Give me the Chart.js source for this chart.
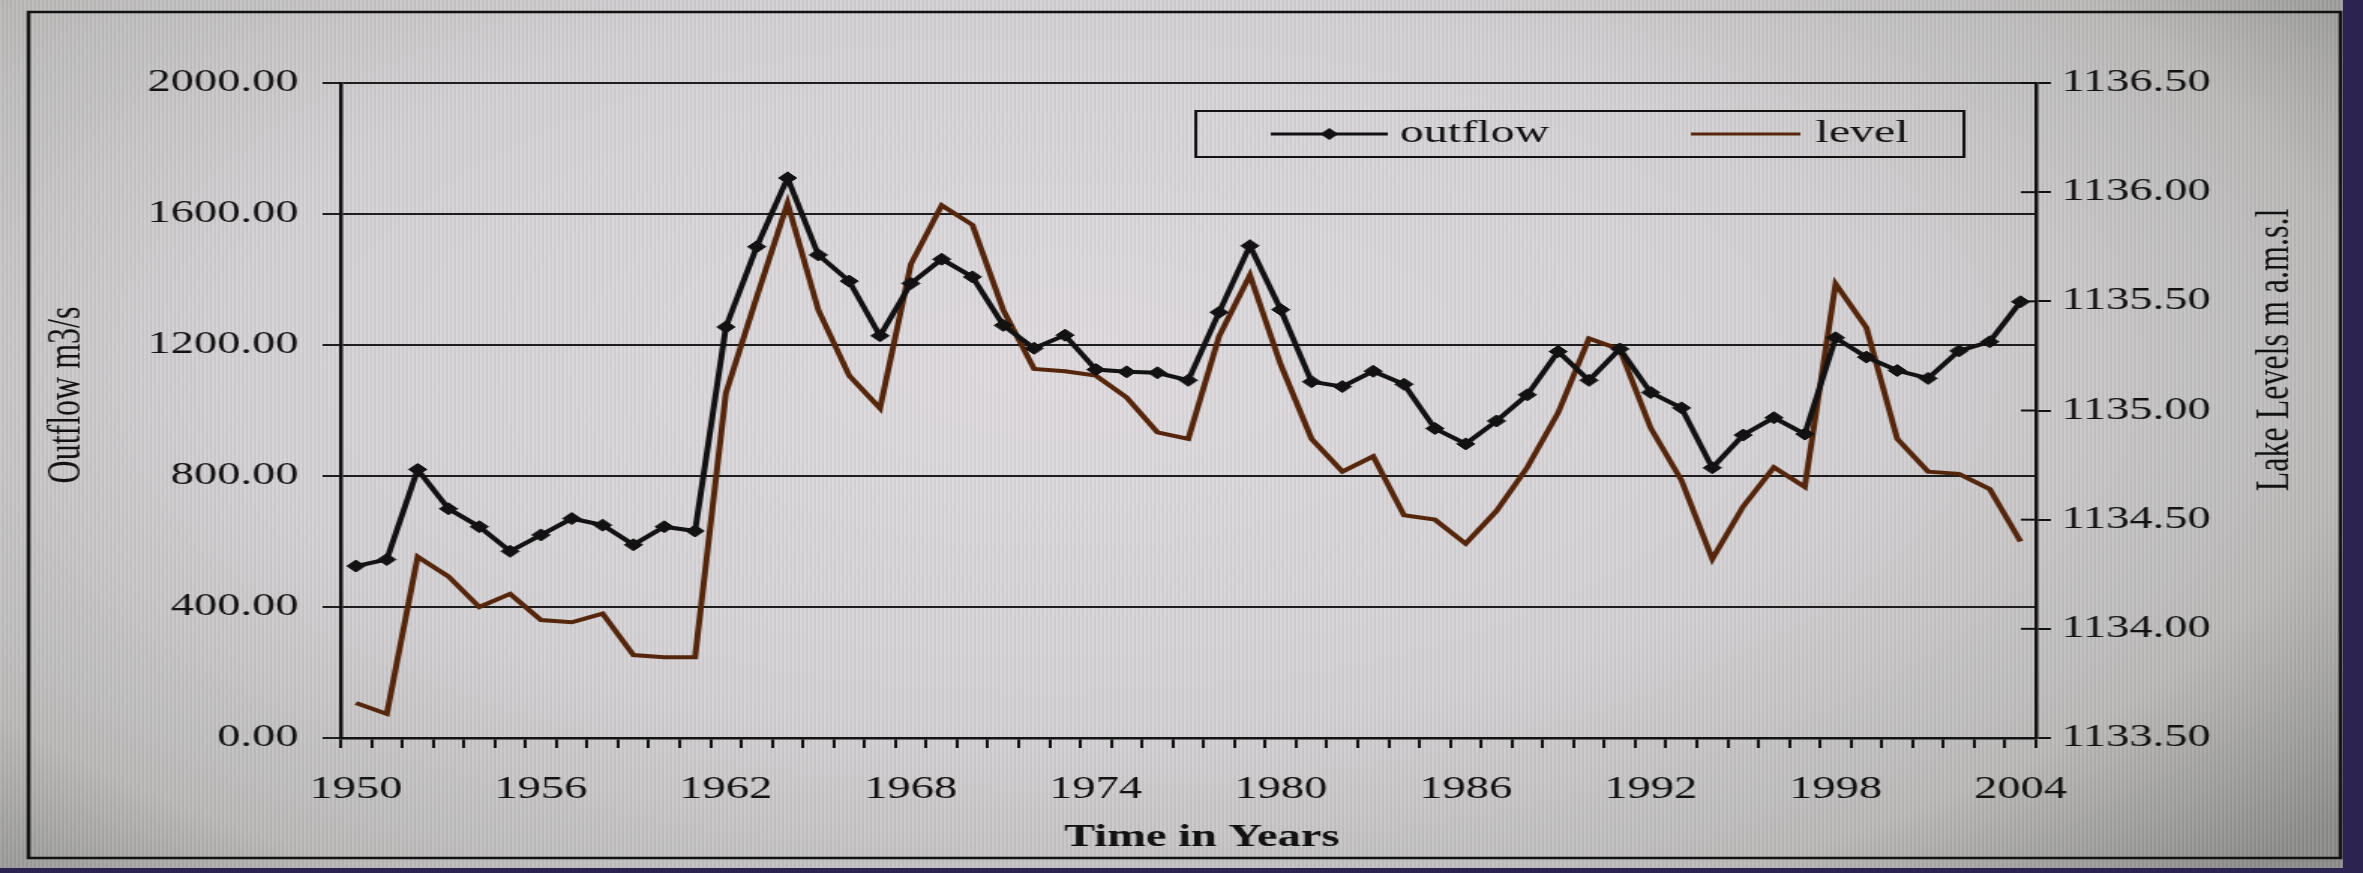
<!DOCTYPE html>
<html>
<head>
<meta charset="utf-8">
<title>Outflow and lake level 1950-2004</title>
<script src="https://cdn.jsdelivr.net/npm/chart.js@4.4.1/dist/chart.umd.min.js"></script>
<style>
  html, body { margin: 0; padding: 0; }
  body { width: 2363px; height: 873px; overflow: hidden; position: relative; background: #2c2350; }
  #paper {
    position: absolute; left: 0; top: 0; width: 2343px; height: 868px;
    background:
      repeating-linear-gradient(90deg, rgba(255,255,255,0.06) 0px, rgba(255,255,255,0.06) 2px, rgba(0,0,0,0.04) 2px, rgba(0,0,0,0.04) 4px),
      radial-gradient(ellipse 70% 85% at 45% 42%, #dfdbdf 0%, #d4d1d4 50%, #bab9b8 80%, #8c8c8a 100%);
  }
  #chart { position: absolute; left: 0; top: 0; }
</style>
</head>
<body>
<div id="paper"></div>
<!-- the photographed figure is stretched sideways, so the canvas is drawn narrow and widened -->
<canvas id="chart" width="1575" height="873" style="width:2363px;height:873px"></canvas>
<script>
// years on the category axis
const years = [
  '1950','1951','1952','1953','1954','1955','1956','1957','1958','1959',
  '1960','1961','1962','1963','1964','1965','1966','1967','1968','1969',
  '1970','1971','1972','1973','1974','1975','1976','1977','1978','1979',
  '1980','1981','1982','1983','1984','1985','1986','1987','1988','1989',
  '1990','1991','1992','1993','1994','1995','1996','1997','1998','1999',
  '2000','2001','2002','2003','2004'
];

// outflow in m3/s (left axis)
const outflow = [
  525, 545, 820, 700, 645, 570, 620, 670, 650, 590,
  645, 632, 1255, 1500, 1710, 1475, 1395, 1228, 1388, 1462,
  1408, 1260, 1190, 1230, 1125, 1118, 1115, 1092, 1300, 1503,
  1308, 1088, 1073, 1120, 1080, 945, 898, 968, 1048, 1180,
  1092, 1188, 1055, 1008, 825, 925, 978, 928, 1222, 1163,
  1122, 1098, 1182, 1210, 1332
];

// lake level in m a.m.s.l (right axis)
const level = [
  1133.66, 1133.61, 1134.33, 1134.24, 1134.10, 1134.16, 1134.04, 1134.03, 1134.07, 1133.88,
  1133.87, 1133.87, 1135.08, 1135.52, 1135.95, 1135.46, 1135.16, 1135.01, 1135.67, 1135.94,
  1135.85, 1135.46, 1135.19, 1135.18, 1135.16, 1135.06, 1134.90, 1134.87, 1135.34, 1135.62,
  1135.21, 1134.87, 1134.72, 1134.79, 1134.52, 1134.50, 1134.39, 1134.54, 1134.74, 1134.99,
  1135.33, 1135.28, 1134.92, 1134.68, 1134.32, 1134.56, 1134.74, 1134.65, 1135.58, 1135.38,
  1134.87, 1134.72, 1134.71, 1134.64, 1134.40
];

// tick labels
const yearTicks = ['1950','1956','1962','1968','1974','1980','1986','1992','1998','2004'];
const outflowTicks = [0, 400, 800, 1200, 1600, 2000];
const levelTicks = [1133.5, 1134.0, 1134.5, 1135.0, 1135.5, 1136.0, 1136.5];

const ink = '#121212';
const brown = '#55260c';
const serif = '"Liberation Serif", "Times New Roman", serif';

// frame, crossing ticks, axis titles and the boxed legend
const decor = {
    id: 'decor',
    beforeDraw(chart) {
        const ctx = chart.ctx;
        ctx.save();
        ctx.strokeStyle = ink;
        ctx.lineWidth = 2.5;
        ctx.strokeRect(19, 12, 1541, 846);
        ctx.restore();
    },
    afterDraw(chart) {
        const ctx = chart.ctx;
        const area = chart.chartArea;
        const y2 = chart.scales.y2;
        const ds = chart.data.datasets;
        ctx.save();

        // right axis ticks cross the axis line
        ctx.strokeStyle = ink;
        ctx.lineWidth = 2;
        y2.ticks.forEach(t => {
            const py = y2.getPixelForValue(t.value);
            ctx.beginPath();
            ctx.moveTo(area.right - 10, py);
            ctx.lineTo(area.right, py);
            ctx.stroke();
        });

        // axis titles
        ctx.fillStyle = ink;
        ctx.textAlign = 'center';
        ctx.textBaseline = 'middle';
        ctx.font = 'bold 31px ' + serif;
        ctx.fillText('Time in Years', 801, 838);
        ctx.font = '32px ' + serif;
        ctx.save();
        ctx.translate(45, 395);
        ctx.rotate(-Math.PI / 2);
        ctx.fillText('Outflow m3/s', 0, 0);
        ctx.restore();
        ctx.save();
        ctx.translate(1517, 350);
        ctx.rotate(-Math.PI / 2);
        ctx.fillText('Lake Levels m a.m.s.l', 0, 0);
        ctx.restore();

        // legend box
        ctx.lineWidth = 2;
        ctx.strokeStyle = ink;
        ctx.strokeRect(797, 111, 512, 46);
        const ly = 134;
        ctx.lineWidth = 3;
        ctx.strokeStyle = ds[0].borderColor;
        ctx.beginPath(); ctx.moveTo(847, ly); ctx.lineTo(925, ly); ctx.stroke();
        ctx.fillStyle = ds[0].pointBackgroundColor;
        ctx.beginPath();
        ctx.moveTo(886 - 6, ly); ctx.lineTo(886, ly - 6); ctx.lineTo(886 + 6, ly); ctx.lineTo(886, ly + 6);
        ctx.closePath(); ctx.fill();
        ctx.strokeStyle = ds[1].borderColor;
        ctx.beginPath(); ctx.moveTo(1127, ly); ctx.lineTo(1200, ly); ctx.stroke();
        ctx.fillStyle = ink;
        ctx.textAlign = 'left';
        ctx.font = '32px ' + serif;
        ctx.fillText(ds[0].label, 933, ly);
        ctx.fillText(ds[1].label, 1210, ly);

        ctx.restore();
    }
};

const canvas = document.getElementById('chart');
const ctx = canvas.getContext('2d');
const chart = new Chart(ctx, {
    type: 'line',
    data: {
        labels: years,
        datasets: [{
            label: 'outflow',
            data: outflow,
            yAxisID: 'y',
            borderColor: ink,
            borderWidth: 4,
            pointStyle: 'rectRot',
            pointRadius: 6,
            pointBackgroundColor: ink,
            pointBorderColor: ink,
            pointBorderWidth: 1,
            tension: 0
        }, {
            label: 'level',
            data: level,
            yAxisID: 'y2',
            borderColor: brown,
            borderWidth: 4,
            pointRadius: 0,
            tension: 0
        }]
    },
    options: {
        responsive: false,
        animation: false,
        layout: { padding: { top: 83, left: 0, right: 0, bottom: 0 } },
        plugins: {
            legend: { display: false },
            tooltip: { enabled: false }
        },
        scales: {
            x: {
                type: 'category',
                offset: true,
                afterFit: s => { s.height = 135; },
                grid: { offset: true, drawOnChartArea: false, tickLength: 10, color: ink, lineWidth: 2 },
                border: { display: true, color: ink, width: 2.5 },
                ticks: {
                    autoSkip: false,
                    maxRotation: 0,
                    padding: 23,
                    color: ink,
                    font: { family: serif, size: 31 },
                    callback: function(val) {
                        const lab = this.getLabelForValue(val);
                        return yearTicks.includes(lab) ? lab : '';
                    }
                }
            },
            y: {
                position: 'left',
                min: outflowTicks[0],
                max: outflowTicks[outflowTicks.length - 1],
                afterFit: s => { s.width = 227; },
                grid: { color: '#1e1e1e', lineWidth: 2, tickLength: 12 },
                border: { display: true, color: ink, width: 2.5 },
                ticks: {
                    stepSize: outflowTicks[1] - outflowTicks[0],
                    padding: 16,
                    color: ink,
                    font: { family: serif, size: 31 },
                    callback: v => Number(v).toFixed(2)
                }
            },
            y2: {
                position: 'right',
                min: levelTicks[0],
                max: levelTicks[levelTicks.length - 1],
                afterFit: s => { s.width = 218; },
                grid: { drawOnChartArea: false, tickLength: 10, color: ink, lineWidth: 2 },
                border: { display: true, color: ink, width: 2.5 },
                ticks: {
                    stepSize: levelTicks[1] - levelTicks[0],
                    padding: 7,
                    color: ink,
                    font: { family: serif, size: 31 },
                    callback: v => Number(v).toFixed(2)
                }
            }
        }
    },
    plugins: [decor]
});
// keep the sideways stretch in case the library reset the display size
canvas.style.width = '2363px';
canvas.style.height = '873px';
</script>
</body>
</html>
